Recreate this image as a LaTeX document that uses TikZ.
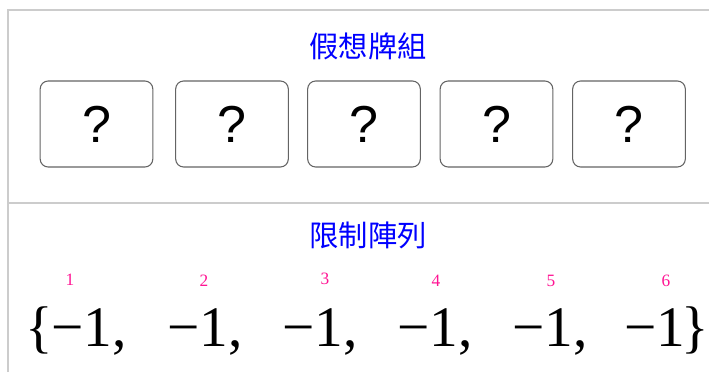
\documentclass[tikz,border=0pt]{standalone}
\usepackage{fontspec}
\setmainfont{Liberation Serif}
\newfontfamily\cjk{Noto Sans CJK TC}
\newfontfamily\qfont{Liberation Sans}
\definecolor{titleblue}{RGB}{0,0,255}
\definecolor{idxpink}{RGB}{255,20,147}
\definecolor{framegray}{RGB}{204,204,204}
\definecolor{cardgray}{RGB}{100,100,100}
\begin{document}
\begin{tikzpicture}[x=0.75pt,y=-0.75pt,
  frame/.style={draw=framegray, line width=1.5pt},
  card/.style={draw=cardgray, line width=0.8pt, rounded corners=6pt, fill=white,
    minimum width=84.5pt, minimum height=64.5pt, inner sep=0pt,
    font=\qfont\fontsize{39}{39}\selectfont},
  heading/.style={text=titleblue, inner sep=0pt, font=\cjk\fontsize{22}{22}\selectfont},
  idx/.style={text=idxpink, inner sep=0pt, font=\fontsize{13}{13}\selectfont},
  term/.style={anchor=base west, inner sep=0pt, font=\fontsize{43}{43}\selectfont}]
\useasboundingbox (0,0) rectangle (709,372);
% frame lines
\coordinate (fl) at (8,372);
\coordinate (ftl) at (8,10);
\coordinate (ftr) at (709,10);
\coordinate (dl) at (8,203);
\coordinate (dr) at (709,203);
\draw[frame] (fl) -- (ftl) -- (ftr);
\draw[frame] (dl) -- (dr);
% titles
\node[heading] (t1) at (368,46) {假想牌組};
\node[heading] (t2) at (368,235) {限制陣列};
% cards
\node[card] (c1) at (96.5,124) {?};
\node[card] (c2) at (232,124) {?};
\node[card] (c3) at (364,124) {?};
\node[card] (c4) at (496.5,124) {?};
\node[card] (c5) at (629,124) {?};
% indices
\node[idx] (i1) at (70,280) {1};
\node[idx] (i2) at (204,281) {2};
\node[idx] (i3) at (325,279) {3};
\node[idx] (i4) at (436,281) {4};
\node[idx] (i5) at (551,281) {5};
\node[idx] (i6) at (666,281) {6};
% array
\node[term] (lb) at (25,346) {\{};
\node[term] (e1) at (51,346) {−1,};
\node[term] (e2) at (167,346) {−1,};
\node[term] (e3) at (282,346) {−1,};
\node[term] (e4) at (397,346) {−1,};
\node[term] (e5) at (512,346) {−1,};
\node[term] (e6) at (624,346) {−1};
\node[term, anchor=base east] (rb) at (709,346) {\}};
\end{tikzpicture}
\end{document}
